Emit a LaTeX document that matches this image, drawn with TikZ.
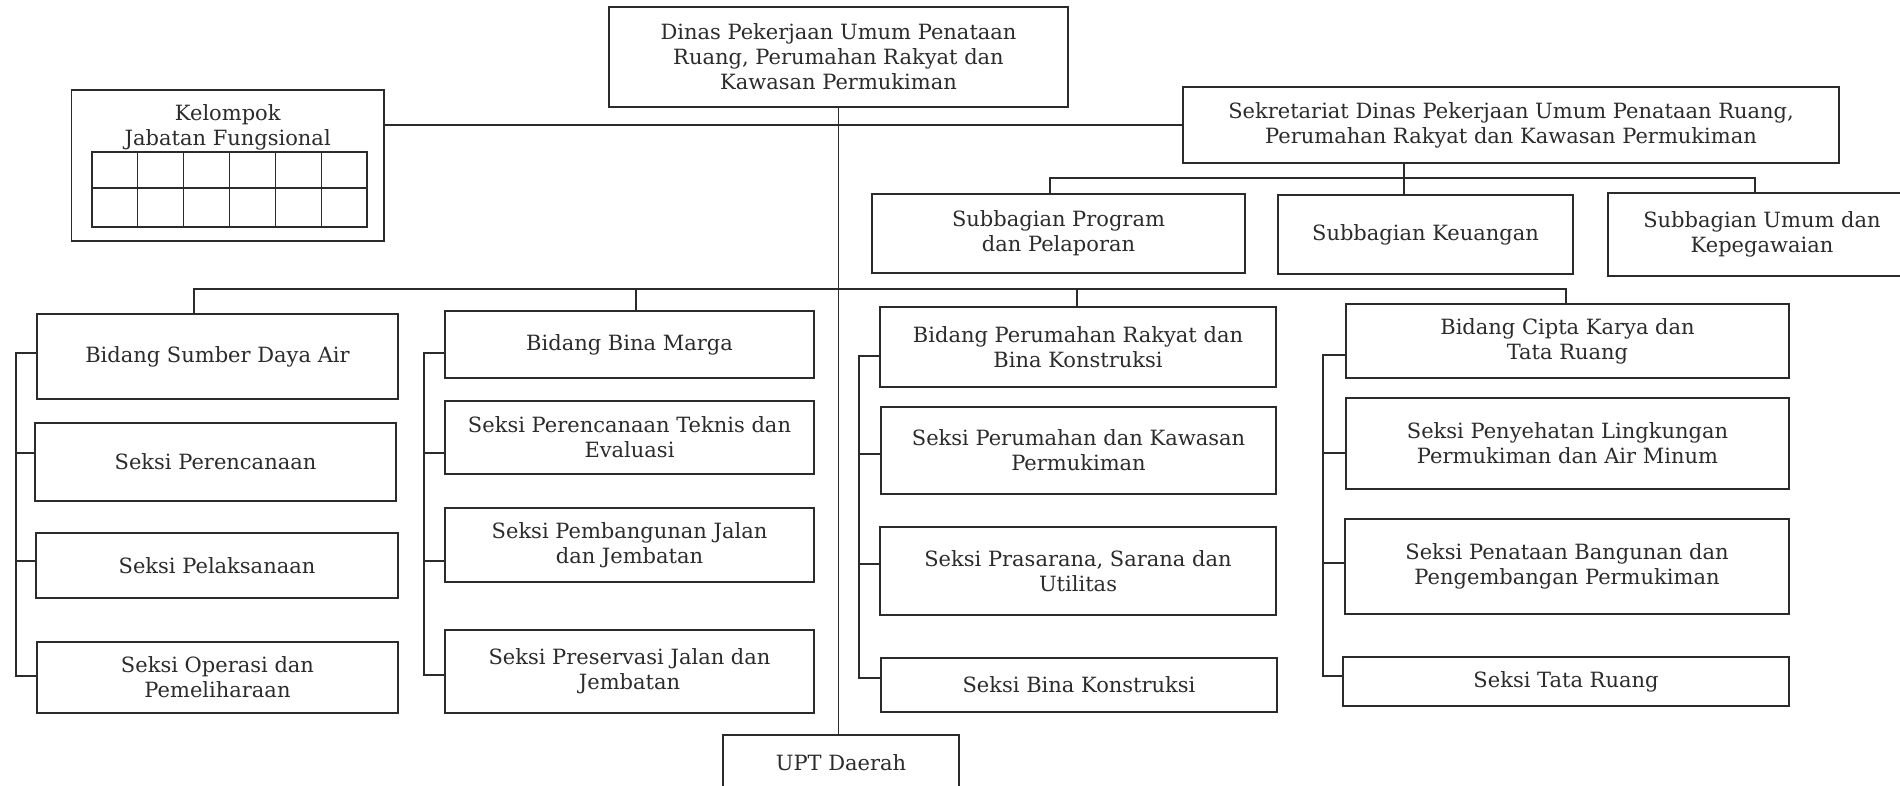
\documentclass[tikz,border=0pt]{standalone}
\usepackage{fontspec}
\setmainfont{DejaVu Serif}
\definecolor{ink}{HTML}{2B2B2B}
\begin{document}
\begin{tikzpicture}[x=1pt,y=-1pt,
  box/.style={draw=ink, line width=1.6pt, align=center, inner sep=0pt,
    text=ink, font=\fontsize{21}{25}\selectfont},
  sz/.style 2 args={minimum width=#1pt, minimum height=#2pt},
  txt/.style={align=center, inner sep=0pt, text=ink, font=\fontsize{21}{25}\selectfont},
  link/.style={draw=ink, line width=1.2pt}]
\useasboundingbox (0,0) rectangle (1900,785);

% head office and its staff units
\node[box, sz={459}{100}] (dinas) at (838.5,57)
  {Dinas Pekerjaan Umum Penataan\\Ruang, Perumahan Rakyat dan\\Kawasan Permukiman};
\node[box, sz={312.5}{151}] (kel) at (227.75,165.5) {};
\node[txt] (kelt) at (227.75,127.5) {Kelompok\\Jabatan Fungsional};
\node[box, sz={656}{76}] (sek) at (1511,125)
  {Sekretariat Dinas Pekerjaan Umum Penataan Ruang,\\Perumahan Rakyat dan Kawasan Permukiman};
\node[box, sz={373}{79}] (prog) at (1058.5,233.5) {Subbagian Program\\dan Pelaporan};
\node[box, sz={295}{79}] (keu) at (1425.5,234.5) {Subbagian Keuangan};
\node[box, sz={308}{83}] (umum) at (1762,234.5) {Subbagian Umum dan\\Kepegawaian};

% functional group grid
\draw[link] (92,152) rectangle (367,227);
\draw[link] (92,188) -- (367,188);
\foreach \i in {1,...,5}
  \draw[link] ({92+\i*45.83},152) -- ({92+\i*45.83},227);

% Bidang Sumber Daya Air
\node[box, sz={361}{85}] (sda) at (217.5,356.5) {Bidang Sumber Daya Air};
\node[box, sz={361}{78}] (sdaA) at (215.5,462) {Seksi Perencanaan};
\node[box, sz={362}{65}] (sdaB) at (217,565.5) {Seksi Pelaksanaan};
\node[box, sz={361}{71}] (sdaC) at (217.5,677.5) {Seksi Operasi dan\\Pemeliharaan};

% Bidang Bina Marga
\node[box, sz={369}{67}] (bm) at (629.5,344.5) {Bidang Bina Marga};
\node[box, sz={369}{73}] (bmA) at (629.5,437.5) {Seksi Perencanaan Teknis dan\\Evaluasi};
\node[box, sz={369}{74}] (bmB) at (629.5,545) {Seksi Pembangunan Jalan\\dan Jembatan};
\node[box, sz={369}{83}] (bmC) at (629.5,671.5) {Seksi Preservasi Jalan dan\\Jembatan};

% Bidang Perumahan Rakyat dan Bina Konstruksi
\node[box, sz={396}{80}] (pr) at (1078,347) {Bidang Perumahan Rakyat dan\\Bina Konstruksi};
\node[box, sz={395}{87}] (prA) at (1078.5,450.5) {Seksi Perumahan dan Kawasan\\Permukiman};
\node[box, sz={396}{88}] (prB) at (1078,571) {Seksi Prasarana, Sarana dan\\Utilitas};
\node[box, sz={396}{54}] (prC) at (1079,685) {Seksi Bina Konstruksi};

% Bidang Cipta Karya dan Tata Ruang
\node[box, sz={443}{74}] (ck) at (1567.5,341) {Bidang Cipta Karya dan\\Tata Ruang};
\node[box, sz={443}{91}] (ckA) at (1567.5,443.5) {Seksi Penyehatan Lingkungan\\Permukiman dan Air Minum};
\node[box, sz={444}{95}] (ckB) at (1567,566.5) {Seksi Penataan Bangunan dan\\Pengembangan Permukiman};
\node[box, sz={446}{49}] (ckC) at (1566,681.5) {Seksi Tata Ruang};

% regional technical unit
\node[box, sz={236}{55}] (upt) at (841,762.5) {UPT Daerah};

% main trunk and the functional-group line
\draw[link] (dinas.south) -- (dinas.south |- upt.north);
\draw[link] (kel.east |- sek.west) -- (sek.west);

% secretariat bus
\coordinate (subA) at (1050,178);
\coordinate (subM) at (1404,178);
\coordinate (subB) at (1755,178);
\draw[link] (prog.north -| subA) -- (subA) -- (subB) -- (umum.north -| subB);
\draw[link] (sek.south -| subM) -- (keu.north -| subM);

% bus for the four Bidang
\coordinate (bA) at (194,289);
\coordinate (bB) at (636,289);
\coordinate (bC) at (1077,289);
\coordinate (bD) at (1566,289);
\draw[link] (sda.north -| bA) -- (bA) -- (bD) -- (ck.north -| bD);
\draw[link] (bB) -- (bm.north -| bB);
\draw[link] (bC) -- (pr.north -| bC);

% side spines linking each Bidang with its Seksi
\foreach \sx/\ya/\yb/\yc/\yd/\na/\nb/\nc/\nd in {
    16/353/453/561/676/sda/sdaA/sdaB/sdaC,
    424/353/453/561/675/bm/bmA/bmB/bmC,
    859/356/454/564/678/pr/prA/prB/prC,
    1323/355/453/563/676/ck/ckA/ckB/ckC}{
  \coordinate (t1) at (\sx,\ya);
  \coordinate (t2) at (\sx,\yb);
  \coordinate (t3) at (\sx,\yc);
  \coordinate (t4) at (\sx,\yd);
  \draw[link] (\na.west |- t1) -- (t1) -- (t4) -- (\nd.west |- t4);
  \draw[link] (t2) -- (\nb.west |- t2);
  \draw[link] (t3) -- (\nc.west |- t3);
}
\end{tikzpicture}
\end{document}
